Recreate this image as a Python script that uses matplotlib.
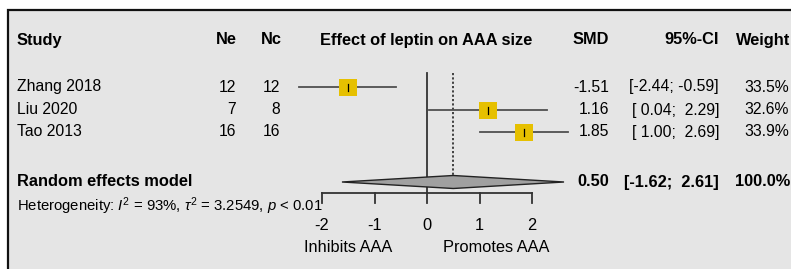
import matplotlib.pyplot as plt
from matplotlib.patches import Rectangle, Polygon

plt.rcParams['font.family'] = ['Liberation Sans', 'DejaVu Sans']
plt.rcParams['mathtext.fontset'] = 'custom'
plt.rcParams['mathtext.rm'] = 'Liberation Sans'
plt.rcParams['mathtext.it'] = 'Liberation Sans:italic'

studies = ["Zhang 2018", "Liu 2020", "Tao 2013"]
ne = [12, 7, 16]
nc = [12, 8, 16]
smd = [-1.51, 1.16, 1.85]
ci_lo = [-2.44, 0.04, 1.00]
ci_hi = [-0.59, 2.29, 2.69]
weight = [33.5, 32.6, 33.9]
pooled = 0.50
pooled_lo = -1.62
pooled_hi = 2.61
ticks = [-2, -1, 0, 1, 2]

W, H = 791, 269
x0, unit = 427, 52.5   # pixel of zero and pixels per SMD unit
row_y = [87, 110, 132]
pool_y = 182
axis_y = 193
fs = 11.3
fsb = 11.8
txt = 'black'
sq_col = '#e6c000'
line_col = '#505050'

fig = plt.figure(figsize=(W / 100, H / 100), dpi=100)
tx = fig.add_axes([0, 0, 1, 1])
tx.set_xlim(0, W)
tx.set_ylim(H, 0)
tx.axis('off')
ax = fig.add_axes([0, 0, 1, 1])
ax.set_xlim(-x0 / unit, (W - x0) / unit)
ax.set_ylim(H, 0)
ax.axis('off')
ax.patch.set_alpha(0)

# panel
tx.add_patch(Rectangle((8, 10), 900, 400, facecolor='#e5e5e5', edgecolor='#111111', lw=1.6))

# header
hdr = dict(fontsize=fsb, fontweight='bold', va='center', color=txt)
tx.text(17, 40, "Study", ha='left', **hdr)
tx.text(237, 40, "Ne", ha='right', **hdr)
tx.text(282, 40, "Nc", ha='right', **hdr)
tx.text(426, 40, "Effect of leptin on AAA size", ha='center', **hdr)
tx.text(609, 40, "SMD", ha='right', **hdr)
tx.text(719, 40, "95%-CI", ha='right', **hdr)
tx.text(790, 40, "Weight", ha='right', **hdr)

# study rows
body = dict(fontsize=fs, va='center', color=txt)
for i, name in enumerate(studies):
    y = row_y[i]
    tx.text(17, y, name, ha='left', **body)
    tx.text(236, y, str(ne[i]), ha='right', **body)
    tx.text(280, y, str(nc[i]), ha='right', **body)
    tx.text(609, y, f"{smd[i]:.2f}", ha='right', **body)
    tx.text(719, y, f"[{ci_lo[i]:5.2f}; {ci_hi[i]:5.2f}]", ha='right', **body)
    tx.text(789, y, f"{weight[i]:.1f}%", ha='right', **body)
    ax.plot([ci_lo[i], ci_hi[i]], [y, y], color=line_col, lw=1.3, clip_on=False, zorder=2)
    s = 18 * (weight[i] / max(weight)) ** 0.5 / unit
    ax.add_patch(Rectangle((smd[i] - s / 2, y - 8.5), s, 17, facecolor=sq_col,
                           edgecolor='none', zorder=3))
    ax.plot([smd[i], smd[i]], [y - 3.5, y + 3.5], color='black', lw=0.9, zorder=4)

# pooled row
tx.text(17, pool_y, "Random effects model", ha='left', **hdr)
tx.text(609, pool_y, f"{pooled:.2f}", ha='right', **hdr)
tx.text(719, pool_y, f"[{pooled_lo:5.2f}; {pooled_hi:5.2f}]", ha='right', **hdr)
tx.text(790, pool_y, "100.0%", ha='right', **hdr)
ax.add_patch(Polygon([(pooled_lo, pool_y), (pooled, pool_y - 6.5), (pooled_hi, pool_y),
                      (pooled, pool_y + 6.5)], closed=True, facecolor='#a0a0a0',
                     edgecolor='#222222', lw=1.0, zorder=3))

tx.text(17, 206, r"Heterogeneity: $I^2$ = 93%, $\tau^2$ = 3.2549, $p$ < 0.01",
        ha='left', va='center', fontsize=10.7, color=txt)

# reference lines
ax.plot([0, 0], [73, axis_y], color='#333333', lw=1.3, zorder=1)
ax.plot([pooled, pooled], [73, pool_y - 6], color='#333333', lw=1.3, ls=(0, (1.2, 1.2)), zorder=1)

# x axis
ax.plot([ticks[0], ticks[-1]], [axis_y, axis_y], color='#333333', lw=1.3)
for t in ticks:
    ax.plot([t, t], [axis_y, axis_y + 10], color='#333333', lw=1.3)
    ax.text(t, 225, str(t), ha='center', va='center', fontsize=fsb, color=txt)
ax.text(-1.51, 248, "Inhibits AAA", ha='center', va='center', fontsize=fsb, color=txt)
ax.text(1.32, 248, "Promotes AAA", ha='center', va='center', fontsize=fsb, color=txt)

fig.savefig('out.png', dpi=100, facecolor='white')
